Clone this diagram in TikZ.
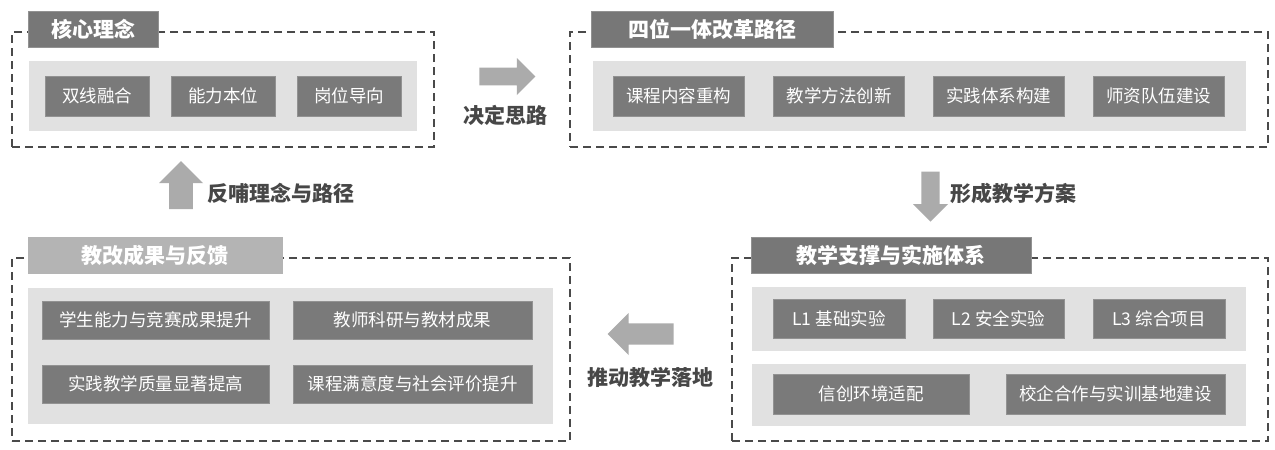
\documentclass[tikz,border=0pt]{standalone}
\usepackage{fontspec}
\setmainfont{Noto Sans CJK SC}
\usetikzlibrary{shapes.arrows}
\definecolor{framec}{HTML}{4A4A4A}
\definecolor{titlec}{HTML}{777777}
\definecolor{titlelc}{HTML}{B4B4B4}
\definecolor{innerc}{HTML}{E1E1E1}
\definecolor{itemc}{HTML}{7A7A7A}
\definecolor{itemedge}{HTML}{929292}
\definecolor{arrowc}{HTML}{ABABAB}
\definecolor{labelc}{HTML}{474747}
\tikzset{
  x=1pt, y=-1pt,
  frame/.style={draw=framec, line width=2.1pt, dash pattern=on 8pt off 5pt, minimum width=#1, inner sep=0pt, outer sep=0pt},
  titlebox/.style={fill=titlec, draw=itemedge, line width=0.6pt, text=white, font=\bfseries\fontsize{21}{24}\selectfont, minimum height=36pt, minimum width=#1, inner sep=0pt},
  innerbox/.style={fill=innerc, minimum width=#1, inner sep=0pt},
  itembox/.style={fill=itemc, draw=itemedge, line width=0.8pt, text=white, font=\fontsize{17.5}{20}\selectfont, minimum width=#1, inner sep=0pt},
  bigarrow/.style={single arrow, fill=arrowc, draw=none, inner sep=0pt, single arrow head indent=0pt},
  flowlabel/.style={text=labelc, font=\bfseries\fontsize{21}{24}\selectfont, inner sep=0pt}
}
\begin{document}
\begin{tikzpicture}
\useasboundingbox[fill=white] (0,0) rectangle (1275,450);

% ---------- Panel 1: 核心理念 ----------
\node[frame=422pt, minimum height=115pt] (f1) at (223,89.5) {};
\node[titlebox=130pt] (t1) at (93,29) {核心理念};
\node[innerbox=388pt, minimum height=70pt] (g1) at (223,96) {};
\node[itembox=104pt, minimum height=40pt] (a1) at (97,96) {双线融合};
\node[itembox=104pt, minimum height=40pt] (a2) at (223,96) {能力本位};
\node[itembox=104pt, minimum height=40pt] (a3) at (349,96) {岗位导向};

% ---------- Panel 2: 四位一体改革路径 ----------
\node[frame=698pt, minimum height=115pt] (f2) at (919,89.5) {};
\node[titlebox=242pt] (t2) at (712,29) {四位一体改革路径};
\node[innerbox=653pt, minimum height=70pt] (g2) at (919.5,96) {};
\node[itembox=131pt, minimum height=40pt] (b1) at (678.5,96) {课程内容重构};
\node[itembox=131pt, minimum height=40pt] (b2) at (839,96) {教学方法创新};
\node[itembox=131pt, minimum height=40pt] (b3) at (998.5,96) {实践体系构建};
\node[itembox=131pt, minimum height=40pt] (b4) at (1158.5,96) {师资队伍建设};

% ---------- Panel 3: 教学支撑与实施体系 ----------
\node[frame=536pt, minimum height=183pt] (f3) at (1000,349.5) {};
\node[titlebox=280pt] (t3) at (891,255) {教学支撑与实施体系};
\node[innerbox=494pt, minimum height=64pt] (g3a) at (999,319) {};
\node[innerbox=494pt, minimum height=62pt] (g3b) at (999,395) {};
\node[itembox=132pt, minimum height=39pt] (c1) at (839,318.5) {L1 基础实验};
\node[itembox=131pt, minimum height=39pt] (c2) at (998.5,318.5) {L2 安全实验};
\node[itembox=132pt, minimum height=39pt] (c3) at (1159,318.5) {L3 综合项目};
\node[itembox=196pt, minimum height=40pt] (c4) at (871,394) {信创环境适配};
\node[itembox=219pt, minimum height=40pt] (c5) at (1115.5,394) {校企合作与实训基地建设};

% ---------- Panel 4: 教改成果与反馈 ----------
\node[frame=558pt, minimum height=183pt] (f4) at (291,349.5) {};
\node[titlebox=254pt, fill=titlelc, draw=titlelc] (t4) at (155,255) {教改成果与反馈};
\node[innerbox=525pt, minimum height=136pt] (g4) at (290.5,356) {};
\node[itembox=227pt, minimum height=38pt] (d1) at (155.5,320) {学生能力与竞赛成果提升};
\node[itembox=239pt, minimum height=38pt] (d2) at (412.5,320) {教师科研与教材成果};
\node[itembox=227pt, minimum height=38pt] (d3) at (155.5,384) {实践教学质量显著提高};
\node[itembox=239pt, minimum height=38pt] (d4) at (412.5,384) {课程满意度与社会评价提升};

% ---------- Flow arrows ----------
\node[bigarrow, minimum height=56pt, minimum width=37pt, inner ysep=6.5pt] (ar1) at (503,76.5) {};
\node[flowlabel] (l1) at (505,115) {决定思路};

\node[bigarrow, shape border rotate=270, minimum height=50pt, minimum width=35pt, inner xsep=7.5pt] (ar2) at (930.5,192) {};
\node[flowlabel, anchor=west] (l2) at (950,193) {形成教学方案};

\node[bigarrow, shape border rotate=180, minimum height=66pt, minimum width=42pt, inner ysep=7pt] (ar3) at (646,334) {};
\node[flowlabel] (l3) at (650,377) {推动教学落地};

\node[bigarrow, shape border rotate=90, minimum height=48pt, minimum width=44pt, inner xsep=8pt] (ar4) at (181,191) {};
\node[flowlabel, anchor=west] (l4) at (207,193) {反哺理念与路径};
\end{tikzpicture}
\end{document}
